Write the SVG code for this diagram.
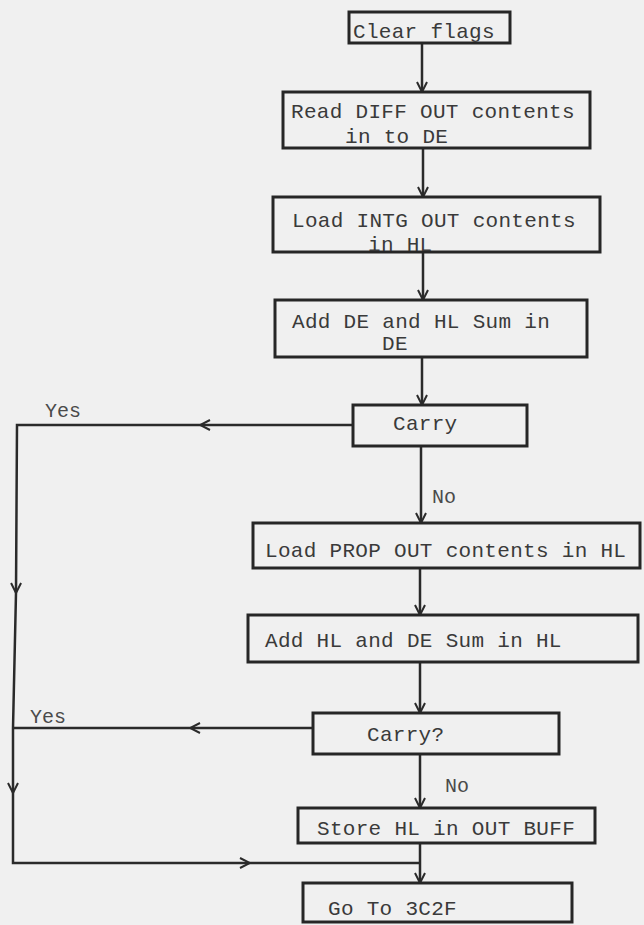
<svg xmlns="http://www.w3.org/2000/svg" width="644" height="925" viewBox="0 0 644 925">
<style>
.box{fill:none;stroke:#262626;stroke-width:3}
.t{font-family:"Liberation Mono","DejaVu Sans Mono",monospace;font-size:21px;letter-spacing:0.3px;fill:#3a3a3a}
.lbl{font-family:"Liberation Mono","DejaVu Sans Mono",monospace;font-size:20px;fill:#4a4a4a}
.c{fill:none;stroke:#2a2a2a;stroke-width:2.5}
</style>
<defs>
<marker id="ah" viewBox="0 0 12 12" refX="11" refY="6" markerWidth="12" markerHeight="12" markerUnits="userSpaceOnUse" orient="auto">
<path d="M1,1 L11,6 L1,11" fill="none" stroke="#2a2a2a" stroke-width="2"/>
</marker>
</defs>
<rect width="644" height="925" fill="#f0f0f0"/>
<g id="connectors">
<path class="c" d="M422,43 V92" marker-end="url(#ah)"/>
<path class="c" d="M423,148 V197" marker-end="url(#ah)"/>
<path class="c" d="M423,252 V300" marker-end="url(#ah)"/>
<path class="c" d="M422,357 V405" marker-end="url(#ah)"/>
<path class="c" d="M421,446 V523" marker-end="url(#ah)"/>
<path class="c" d="M420,568 V615" marker-end="url(#ah)"/>
<path class="c" d="M420,662 V713" marker-end="url(#ah)"/>
<path class="c" d="M420,754 V808" marker-end="url(#ah)"/>
<path class="c" d="M420,843 V883" marker-end="url(#ah)"/>
<path class="c" d="M353,425 H200" marker-end="url(#ah)"/>
<path class="c" d="M200,425 H17 L16,593" marker-end="url(#ah)"/>
<path class="c" d="M16,593 L13,728 V793" marker-end="url(#ah)"/>
<path class="c" d="M313,728 H190" marker-end="url(#ah)"/>
<path class="c" d="M190,728 H13"/>
<path class="c" d="M13,793 V863 H250" marker-end="url(#ah)"/>
<path class="c" d="M250,863 H420"/>
<text class="lbl" x="45" y="417">Yes</text>
<text class="lbl" x="432" y="503">No</text>
<text class="lbl" x="30" y="723">Yes</text>
<text class="lbl" x="445" y="792">No</text>
</g>
<g id="n1"><rect class="box" x="349" y="12" width="161" height="31"/><text class="t" x="353" y="38">Clear flags</text></g>
<g id="n2"><rect class="box" x="283" y="92" width="307" height="56"/><text class="t" x="291" y="118">Read DIFF OUT contents</text><text class="t" x="345" y="143">in to DE</text></g>
<g id="n3"><rect class="box" x="273" y="197" width="327" height="55"/><text class="t" x="292" y="227">Load INTG OUT contents</text><text class="t" x="368" y="251">in HL</text></g>
<g id="n4"><rect class="box" x="275" y="300" width="312" height="57"/><text class="t" x="292" y="328">Add DE and HL Sum in</text><text class="t" x="382" y="350">DE</text></g>
<g id="n5"><rect class="box" x="353" y="405" width="174" height="41"/><text class="t" x="393" y="430">Carry</text></g>
<g id="n6"><rect class="box" x="253" y="523" width="387" height="45"/><text class="t" x="265" y="557">Load PROP OUT contents in HL</text></g>
<g id="n7"><rect class="box" x="248" y="615" width="390" height="47"/><text class="t" x="265" y="647">Add HL and DE Sum in HL</text></g>
<g id="n8"><rect class="box" x="313" y="713" width="246" height="41"/><text class="t" x="367" y="741">Carry?</text></g>
<g id="n9"><rect class="box" x="298" y="808" width="297" height="35"/><text class="t" x="317" y="835">Store HL in OUT BUFF</text></g>
<g id="n10"><rect class="box" x="303" y="883" width="269" height="39"/><text class="t" x="328" y="915">Go To 3C2F</text></g>
</svg>
